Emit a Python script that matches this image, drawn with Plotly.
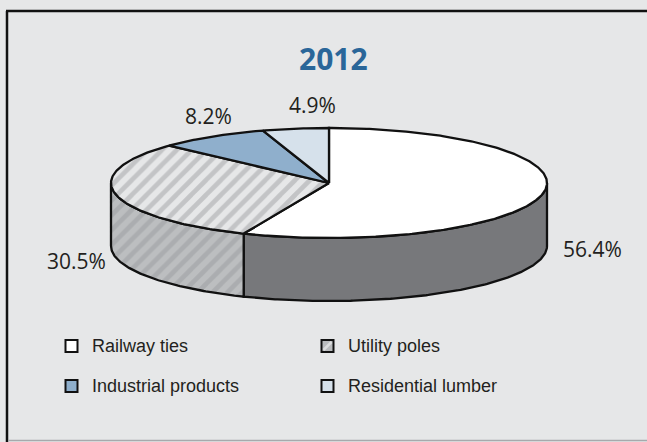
import numpy as np
import plotly.graph_objects as go

# Wood-product market shares, 2012 (%)
categories = ["Railway ties", "Utility poles", "Industrial products", "Residential lumber"]
shares = [56.4, 30.5, 8.2, 4.9]
chart_title = "2012"

# ---- styling -------------------------------------------------------------
W, H = 647, 442
BG = "#e6e7e8"
INK = "#231f20"
EDGE = "#111111"
top_fill = ["#ffffff", "#e6e7e8", "#8fafcc", "#d6e1eb"]
side_fill = ["#77787b", "#bcbec0", "#6f8ba6", "#aab6c2"]
top_hatch = [None, "#9fa1a4", None, None]
side_hatch = [None, "#9a9c9f", None, None]
legend_fill = ["#ffffff", "#b9bbbd", "#8fafcc", "#d6e1eb"]

# ellipse geometry of the tilted pie (pixel units)
CX, CY, RX, RY, DEPTH = 329, 183, 218, 55, 63
label_pos = [(592, 249), (76, 261), (208, 116), (312, 105)]
legend_cols = [71.5, 327.5]
legend_rows = [346, 386]


def arc(a0, a1, dy=0.0, n_per_deg=1.5):
    """Points on the pie's elliptical rim, angles clockwise from 12 o'clock."""
    n = max(2, int(abs(a1 - a0) * n_per_deg) + 1)
    t = np.radians(np.linspace(a0, a1, n))
    return CX + RX * np.sin(t), CY - RY * np.cos(t) + dy


total = float(sum(shares))
bounds = np.concatenate([[0.0], np.cumsum(shares) / total * 360.0])

fig = go.Figure()


def poly(xs, ys, fill, hatch):
    kw = dict(
        x=xs, y=ys, mode="lines", fill="toself", fillcolor=fill,
        line=dict(color=EDGE, width=2.3), hoverinfo="skip", showlegend=False,
    )
    if hatch:
        kw["fillpattern"] = dict(shape="/", bgcolor=fill, fgcolor=hatch,
                                 size=10.5, solidity=0.45)
    fig.add_trace(go.Scatter(**kw))


# side walls: only the front half of the rim (90..270 deg) is visible
for i in range(len(shares)):
    a0, a1 = max(bounds[i], 90.0), min(bounds[i + 1], 270.0)
    if a1 <= a0:
        continue
    tx, ty = arc(a0, a1)
    bx, by = arc(a1, a0, DEPTH)
    xs = np.concatenate([tx, bx, tx[:1]])
    ys = np.concatenate([ty, by, ty[:1]])
    poly(xs, ys, side_fill[i], side_hatch[i])

# top faces: wedges from the centre
for i in range(len(shares)):
    ax_, ay_ = arc(bounds[i], bounds[i + 1])
    xs = np.concatenate([[CX], ax_, [CX]])
    ys = np.concatenate([[CY], ay_, [CY]])
    poly(xs, ys, top_fill[i], top_hatch[i])

annotations = []
# value labels
for v, (lx, ly) in zip(shares, label_pos):
    annotations.append(dict(
        x=lx, y=ly, text=f"{v:.1f}%", showarrow=False,
        xanchor="center", yanchor="middle",
        font=dict(family="Open Sans, Liberation Sans, sans-serif", size=21, color=INK),
    ))

# title
annotations.append(dict(
    x=333, y=58, text=f"<b>{chart_title}</b>", showarrow=False,
    xanchor="center", yanchor="middle",
    font=dict(family="Open Sans, Liberation Sans, sans-serif", size=30, color="#2a6699"),
))

# legend keys
for i, cat in enumerate(categories):
    bx = legend_cols[i % 2]
    by = legend_rows[i // 2]
    fig.add_trace(go.Scatter(
        x=[bx], y=[by], mode="markers", hoverinfo="skip", showlegend=False,
        marker=dict(symbol="square", size=12, color=legend_fill[i],
                    line=dict(color=EDGE, width=2)),
    ))
    if top_hatch[i]:
        fig.add_trace(go.Scatter(
            x=[bx - 4, bx + 4], y=[by + 4, by - 4], mode="lines",
            hoverinfo="skip", showlegend=False,
            line=dict(color="#dcddde", width=2.5),
        ))
    annotations.append(dict(
        x=bx + 18, y=by, text=cat, showarrow=False,
        xanchor="left", yanchor="middle",
        font=dict(family="Liberation Sans, Arial, sans-serif",
                  size=18, color=INK),
    ))

# panel frame
shapes = [
    dict(type="line", x0=7, y0=H + 2, x1=7, y1=11, line=dict(color=EDGE, width=2.5)),
    dict(type="line", x0=6, y0=11, x1=W + 2, y1=11, line=dict(color=EDGE, width=2.5)),
    dict(type="line", x0=8, y0=440.5, x1=W + 2, y1=440.5, line=dict(color="#a7a9ac", width=1.5)),
]

fig.update_layout(
    width=W, height=H, autosize=False,
    margin=dict(l=0, r=0, t=0, b=0),
    paper_bgcolor=BG, plot_bgcolor=BG,
    xaxis=dict(range=[0, W], visible=False, fixedrange=True),
    yaxis=dict(range=[H, 0], visible=False, fixedrange=True),
    annotations=annotations, shapes=shapes, showlegend=False,
)

fig.write_html("out.html", config={"displayModeBar": False})
